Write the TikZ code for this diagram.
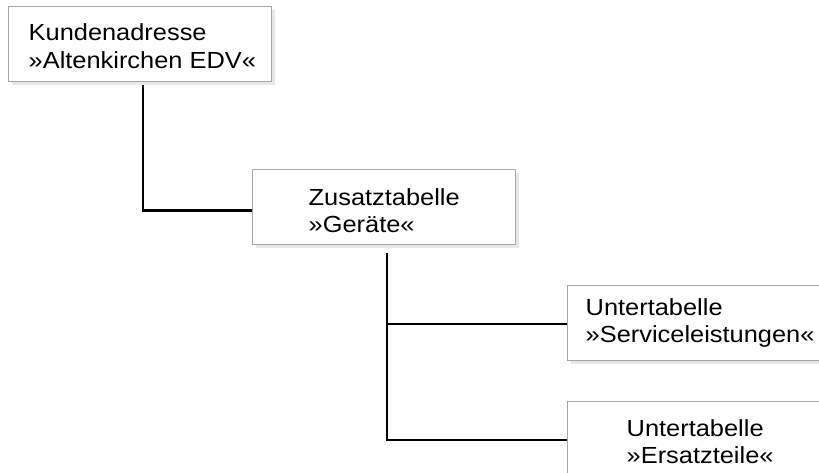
\documentclass[tikz,border=0pt]{standalone}
\usepackage{fontspec}
\setmainfont{Liberation Sans}[FakeStretch=1.09]
\usetikzlibrary{calc,shadows}
\begin{document}
\begin{tikzpicture}[x=1pt,y=-1pt,
  tbox/.style={draw=black!35, line width=0.9pt, fill=white, anchor=north west,
    inner sep=0pt, minimum width=263pt, minimum height=75pt,
    drop shadow={shadow xshift=4pt, shadow yshift=-4pt, fill=black!9, opacity=1}},
  tlabel/.style={anchor=base west, inner sep=0pt, font=\fontsize{23.3}{27.6}\selectfont},
  conn/.style={line width=2.6pt, black}]
\useasboundingbox (0,0) rectangle (819,472);
\fill[white] (0,0) rectangle (819,472);
\node[tbox] (b1) at (8,6) {};
\node[tbox] (b2) at (252,169) {};
\node[tbox] (b3) at (567,285) {};
\node[tbox] (b4) at (567,401) {};
\node[tlabel] (t1) at (28.5,40.7) {\vtop{\hbox{Kundenadresse}\hbox{»Altenkirchen EDV«}}};
\node[tlabel] (t2) at (308.5,205) {\vtop{\hbox{Zusatztabelle}\hbox{»Geräte«}}};
\node[tlabel] (t3) at (585.5,315) {\vtop{\hbox{Untertabelle}\hbox{»Serviceleistungen«}}};
\node[tlabel] (t4) at (626.5,436) {\vtop{\hbox{Untertabelle}\hbox{»Ersatzteile«}}};
\draw[conn] ($(b1.south west)+(135,3)$) |- ($(b2.west)+(0,3.5)$);
\draw[conn] ($(b2.south west)+(135,8)$) |- ($(b3.west)+(0,1)$);
\draw[conn] ($(b2.south west)+(135,8)$) |- ($(b4.west)+(0,1)$);
\end{tikzpicture}
\end{document}
